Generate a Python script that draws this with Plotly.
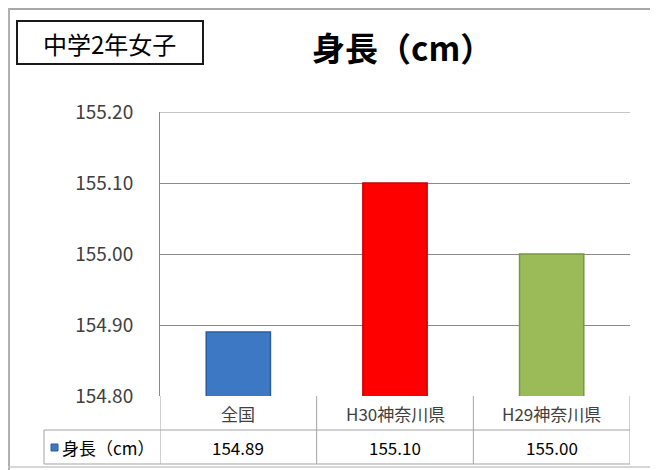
import plotly.graph_objects as go

categories = ["全国", "H30神奈川県", "H29神奈川県"]
heights = [154.89, 155.10, 155.00]
value_labels = ["154.89", "155.10", "155.00"]
tick_vals = [154.80, 154.90, 155.00, 155.10, 155.20]
tick_text = ["154.80", "154.90", "155.00", "155.10", "155.20"]
series_name = "身長（cm）"
group_label = "中学2年女子"
chart_title = "身長（cm）"

W, H = 658, 470
OFF = 8  # page body margin in front of the figure
FONT = "Noto Sans CJK JP"
fill_colors = ["#3D78C4", "#FF0000", "#9BBB59"]
edge_colors = ["#2B5C9C", "#C80000", "#7A9640"]
GRID = "#8A8A8A"
TABLE = "#A3A3A3"


def px(x):
    return (x - OFF) / W


def py(y):
    return 1 - (y - OFF) / H


fig = go.Figure()
fig.add_trace(
    go.Bar(
        x=categories,
        y=heights,
        marker=dict(color=fill_colors, line=dict(color=edge_colors, width=1.5)),
        width=0.41,
        hoverinfo="x+y",
    )
)

shapes = []
annotations = []


def label(text, x, y, size, color="#000000", xref="paper", xanchor="center"):
    annotations.append(dict(text=text, xref=xref, yref="paper", x=x, y=y,
                            xanchor=xanchor, yanchor="middle", showarrow=False,
                            font=dict(family=FONT, size=size, color=color)))


def hline(y, x0, x1, color, width):
    shapes.append(dict(type="line", xref="paper", yref="paper",
                       x0=px(x0), x1=px(x1), y0=py(y), y1=py(y),
                       line=dict(color=color, width=width)))


def vline(x, y0, y1, color, width, xref="paper"):
    xv = px(x) if xref == "paper" else x
    shapes.append(dict(type="line", xref=xref, yref="paper",
                       x0=xv, x1=xv, y0=py(y0), y1=py(y1),
                       line=dict(color=color, width=width)))


# outer frame
hline(9, 8, 653, "#A8A8A8", 2)
vline(9, 8, 470, "#B0B0B0", 2)
hline(467, 8, 653, "#C8C8C8", 1.5)
vline(652, 8, 470, "#7E7E7E", 3)

# top gridline (plotly drops the one sitting on the range edge)
shapes.append(dict(type="line", xref="paper", yref="y",
                   x0=px(160), x1=px(630), y0=tick_vals[-1], y1=tick_vals[-1],
                   line=dict(color=GRID, width=1)))

# label box
shapes.append(dict(type="rect", xref="paper", yref="paper",
                   x0=px(17), x1=px(203), y0=py(64), y1=py(21),
                   line=dict(color="#1A1A1A", width=2)))
label(group_label, px(109), py(43), 24)
label("<b>" + chart_title + "</b>", px(402), py(47), 33)

# data table
row_top, row_mid, row_bot = 396, 430, 464
for yy in [row_mid, row_bot]:
    hline(yy, 44, 630, TABLE, 1)
vline(44, row_mid, row_bot, TABLE, 1)
for xv in [-0.5, 0.5, 1.5, 2.5]:
    vline(xv, row_top, row_bot, TABLE, 1, xref="x")

for i, (cat, lab) in enumerate(zip(categories, value_labels)):
    label(cat, i, py((row_top + row_mid) / 2), 17, "#404040", xref="x")
    label(lab, i, py((row_mid + row_bot) / 2), 17, xref="x")

# legend key in table
shapes.append(dict(type="rect", xref="paper", yref="paper",
                   x0=px(51), x1=px(58), y0=py(451), y1=py(444),
                   fillcolor=fill_colors[0], line=dict(color=edge_colors[0], width=1)))
label(series_name, px(60), py(447), 17, xanchor="left")

fig.update_layout(
    width=W,
    height=H,
    margin=dict(l=0, r=0, t=0, b=0, autoexpand=False),
    paper_bgcolor="white",
    plot_bgcolor="white",
    showlegend=False,
    shapes=shapes,
    annotations=annotations,
    xaxis=dict(
        domain=[px(160), px(630)],
        range=[-0.5, 2.5],
        showticklabels=False,
        showgrid=False,
        zeroline=False,
        showline=False,
    ),
    yaxis=dict(
        domain=[py(396), py(112)],
        range=[154.80, 155.20],
        tickvals=tick_vals,
        ticktext=tick_text,
        showgrid=True,
        gridcolor=GRID,
        gridwidth=1,
        zeroline=False,
        showline=True,
        linecolor=GRID,
        ticks="",
        ticklabelstandoff=22,
        tickfont=dict(family=FONT, size=19, color="#404040"),
    ),
)

fig.write_html("out.html")
